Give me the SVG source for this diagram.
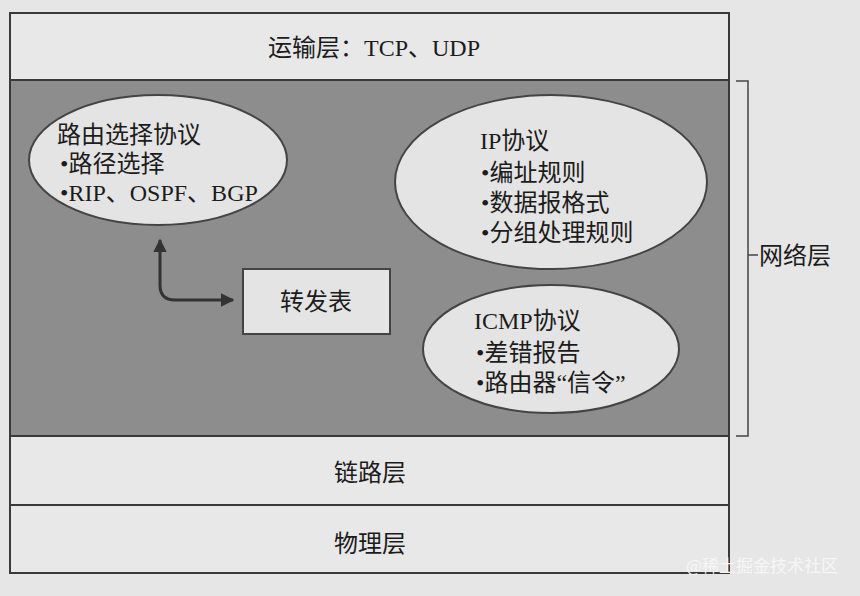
<svg xmlns="http://www.w3.org/2000/svg" width="860" height="596" viewBox="0 0 860 596">
<style>
.bg{fill:#e6e6e6}
.layer{fill:#e8e8e8;stroke:#3a3a3a;stroke-width:2}
.net{fill:#8d8d8d;stroke:#3a3a3a;stroke-width:2}
.ell{fill:#e4e4e4;stroke:#444;stroke-width:2}
.box{fill:#e4e4e4;stroke:#444;stroke-width:2}
.t{font-family:"Liberation Serif","Noto Sans CJK SC",serif;fill:#1c1c1c;font-size:24px}
.c{text-anchor:middle}
.conn{fill:none;stroke:#333;stroke-width:3}
.wm{font-family:"Noto Sans CJK SC",sans-serif;fill:#f6f6f6;font-size:17px}
</style>
<defs>
<marker id="ah" viewBox="0 0 10 10" refX="9" refY="5" markerWidth="4.5" markerHeight="4.5" orient="auto-start-reverse">
<path d="M0,0 L10,5 L0,10 z" fill="#333"/>
</marker>
</defs>
<rect class="bg" x="0" y="0" width="860" height="596"/>
<g id="transport">
<rect class="layer" x="10" y="13" width="719" height="67"/>
<text class="t c" x="374" y="56" font-size="22">运输层：TCP、UDP</text>
</g>
<g id="network">
<rect class="net" x="10" y="80" width="719" height="356"/>
</g>
<g id="link">
<rect class="layer" x="10" y="436" width="719" height="69"/>
<text class="t c" x="370" y="481">链路层</text>
</g>
<g id="physical">
<rect class="layer" x="10" y="505" width="719" height="68"/>
<text class="t c" x="370" y="552">物理层</text>
</g>
<g id="bracket">
<path d="M736,81 L748,81 L748,436 L736,436 M748,255 L758,255" fill="none" stroke="#444" stroke-width="1.5"/>
<text class="t" x="759" y="264">网络层</text>
</g>
<g id="routing">
<ellipse class="ell" cx="158" cy="160" rx="129" ry="65"/>
<text class="t" x="57" y="143">路由选择协议</text>
<text class="t" x="60" y="172">•路径选择</text>
<text class="t" x="60" y="201">•RIP、OSPF、BGP</text>
</g>
<g id="ip">
<ellipse class="ell" cx="551" cy="182" rx="156" ry="87"/>
<text class="t" x="480" y="149">IP协议</text>
<text class="t" x="481" y="181">•编址规则</text>
<text class="t" x="481" y="211">•数据报格式</text>
<text class="t" x="481" y="241">•分组处理规则</text>
</g>
<g id="icmp">
<ellipse class="ell" cx="551" cy="349" rx="128" ry="64"/>
<text class="t" x="474" y="329">ICMP协议</text>
<text class="t" x="476" y="361">•差错报告</text>
<text class="t" x="476" y="391">•路由器“信令”</text>
</g>
<g id="fwd">
<rect class="box" x="243" y="269" width="147" height="65"/>
<text class="t c" x="316" y="310">转发表</text>
</g>
<g id="connectors">
<path class="conn" d="M160,240 L160,285 Q160,300 175,300 L233,300" marker-start="url(#ah)" marker-end="url(#ah)"/>
</g>
<g id="watermark">
<text class="wm" x="686" y="572">@稀土掘金技术社区</text>
</g>
</svg>
